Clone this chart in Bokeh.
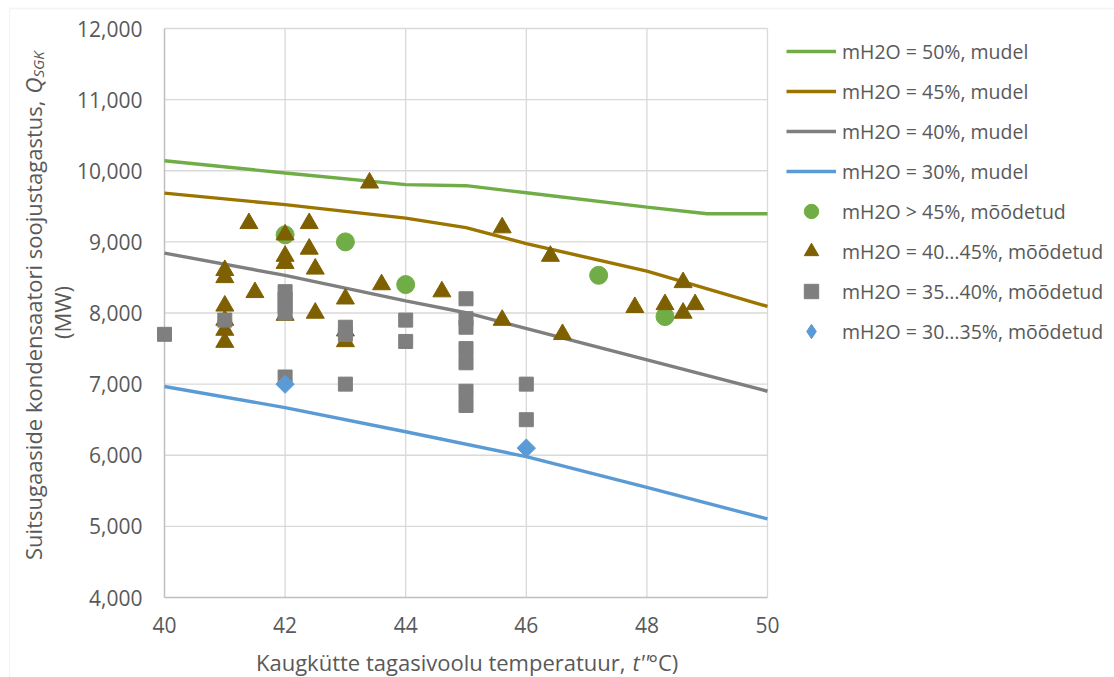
import math
from bokeh.plotting import figure
from bokeh.models import (Range1d, NumeralTickFormatter, Legend, LegendItem, Label, BoxAnnotation,
                          LinearAxis)
from bokeh.embed import file_html
from bokeh.resources import INLINE

# ---------------- data ----------------
# model curves
x_m50 = [40, 42, 44, 45, 46, 48, 49, 50]
y_m50 = [10140, 9968, 9805, 9790, 9690, 9489, 9395, 9395]
x_m45 = [40, 42, 44, 45, 46, 48, 50]
y_m45 = [9686, 9523, 9334, 9200, 8975, 8590, 8092]
x_m40 = [40, 42, 44, 45, 50]
y_m40 = [8842, 8528, 8170, 8004, 6900]
x_m30 = [40, 42, 44, 46, 48, 50]
y_m30 = [6967, 6670, 6330, 5980, 5548, 5104]

# measured points
x_gt45 = [42, 43, 44, 47.2, 48.3]
y_gt45 = [9100, 9000, 8400, 8530, 7950]

x_40_45 = [43.4, 41.4, 42.4, 42, 42.4, 42, 42, 41, 41, 42.5, 41.5, 41, 41, 41, 41,
           42, 42.5, 43, 43, 43, 43.6, 44.6, 45.6, 46.4, 45.6, 46.6, 47.8, 48.3,
           48.6, 48.6, 48.8]
y_40_45 = [9830, 9260, 9260, 9100, 8900, 8800, 8700, 8600, 8500, 8620, 8290, 8100, 7900, 7760, 7590,
           7970, 8000, 8200, 7750, 7600, 8400, 8300, 9200, 8800, 7900, 7700, 8080, 8120,
           8430, 8000, 8120]

x_35_40 = [40, 41, 42, 42, 42, 42, 42, 43, 43, 43, 44, 44, 45, 45, 45, 45, 45, 45, 45, 46, 46]
y_35_40 = [7700, 7900, 8300, 8200, 8100, 8000, 7100, 7800, 7700, 7000, 7900, 7600,
           8200, 7920, 7800, 7500, 7300, 6900, 6700, 7000, 6500]

x_30_35 = [42, 46]
y_30_35 = [7000, 6100]

x_ticks = [40, 42, 44, 46, 48, 50]
y_ticks = [4000, 5000, 6000, 7000, 8000, 9000, 10000, 11000, 12000]

labels = ["mH2O = 50%, mudel", "mH2O = 45%, mudel", "mH2O = 40%, mudel", "mH2O = 30%, mudel",
          "mH2O > 45%, mõõdetud", "mH2O = 40…45%, mõõdetud", "mH2O = 35…40%, mõõdetud",
          "mH2O = 30…35%, mõõdetud"]

# ---------------- style / layout ----------------
FONT = "Open Sans"
TXT = "#595959"
GREEN = "#70ad47"
GOLD = "#7f6000"
GOLD_LINE = "#9c7400"
GRAY = "#7f7f7f"
BLUE = "#5b9bd5"
GRID = "#d9d9d9"

W, H = 1114, 677
# pixel positions of the plot area (x 40..50, y 4000..12000)
FL, FR, FT, FB = 164, 767, 28, 597
X0, X1, Y0, Y1 = 40, 50, 4000, 12000


def px2x(px):
    return X0 + (px - FL) * (X1 - X0) / (FR - FL)


def py2y(py):
    return Y1 - (py - FT) * (Y1 - Y0) / (FB - FT)


# the frame covers the whole canvas so nothing is clipped; the data area is
# placed by the ranges
p = figure(width=W, height=H, output_backend="svg", toolbar_location=None,
           x_range=Range1d(px2x(0), px2x(W)), y_range=Range1d(py2y(H), py2y(0)),
           min_border=0, x_axis_location=None, y_axis_location=None)
p.outline_line_color = None
p.background_fill_color = "white"
p.border_fill_color = "white"
p.grid.visible = False

xax = LinearAxis(fixed_location=Y0, bounds=(X0, X1), ticker=x_ticks)
yax = LinearAxis(fixed_location=X0, bounds=(Y0, Y1), ticker=y_ticks,
                 formatter=NumeralTickFormatter(format="0,0"))
for ax in (xax, yax):
    ax.axis_line_color = "#bfbfbf"
    ax.axis_line_width = 1.5
    ax.major_tick_line_color = None
    ax.minor_tick_line_color = None
    ax.major_tick_out = 0
    ax.major_tick_in = 0
    ax.minor_tick_out = 0
    ax.major_label_text_font = FONT
    ax.major_label_text_font_size = "21px"
    ax.major_label_text_color = TXT
    ax.level = "underlay"
yax.major_label_standoff = 22
xax.major_label_standoff = 19
p.add_layout(xax, "below")
p.add_layout(yax, "left")

# gridlines from the tick lists
gx = x_ticks[1:]
gy = y_ticks[1:]
p.segment(x0=gx, y0=[Y0] * len(gx), x1=gx, y1=[Y1] * len(gx), line_color=GRID, line_width=1.3,
          level="underlay")
p.segment(x0=[X0] * len(gy), y0=gy, x1=[X1] * len(gy), y1=gy, line_color=GRID, line_width=1.3,
          level="underlay")

# outer chart border
p.add_layout(BoxAnnotation(left=px2x(9), right=px2x(W + 50), top=py2y(8), bottom=py2y(H + 50),
                           fill_alpha=0, line_color=GRID, line_width=1.3, level="underlay"))

LW = 3.4
r50 = p.line(x_m50, y_m50, line_color=GREEN, line_width=LW)
r45 = p.line(x_m45, y_m45, line_color=GOLD_LINE, line_width=LW)
r40 = p.line(x_m40, y_m40, line_color=GRAY, line_width=LW)
r30 = p.line(x_m30, y_m30, line_color=BLUE, line_width=LW)

s1 = p.scatter(x_gt45, y_gt45, marker="circle", size=18, fill_color=GREEN, line_color=GREEN)
s2 = p.scatter(x_40_45, y_40_45, marker="triangle", size=18, fill_color=GOLD, line_color=GOLD)
s3 = p.scatter(x_35_40, y_35_40, marker="square", size=14, fill_color=GRAY, line_color=GRAY)
# diamond-shaped key for the legend (drawn under the rotated squares below)
s4_key = p.scatter(x_30_35, y_30_35, marker="diamond", size=12, fill_color=BLUE, line_color=BLUE)
s4 = p.scatter(x_30_35, y_30_35, marker="square", angle=math.pi / 4, size=13,
               fill_color=BLUE, line_color=BLUE)

legend = Legend(items=[LegendItem(label=l, renderers=[r]) for l, r in
                       zip(labels, [r50, r45, r40, r30, s1, s2, s3, s4_key])],
                location=(786, H - 349), glyph_width=50, glyph_height=36,
                label_height=36, spacing=4, padding=0, margin=0, label_standoff=6,
                border_line_color=None, background_fill_alpha=0,
                label_text_font=FONT, label_text_font_size="19.5px", label_text_color=TXT)
p.add_layout(legend)


def lab(px, py, text, size="22px", style="normal", align="left", angle=0.0):
    p.add_layout(Label(x=px2x(px), y=py2y(py), text=text, text_font=FONT, text_font_size=size,
                       text_font_style=style, text_color=TXT, text_align=align,
                       text_baseline="middle", angle=angle))


# y axis title (rotated)
A = math.pi / 2
lab(32, 100, "Suitsugaaside kondensaatori soojustagastus,", align="right", angle=A)
lab(32, 93, "Q", style="italic", angle=A)
lab(37, 77, "SGK", size="15px", style="italic", angle=A)
lab(61, 312, "(MW)", align="center", angle=A)

# x axis title
lab(625, 661, "Kaugkütte tagasivoolu temperatuur,", align="right")
lab(632, 661, "t''", style="italic")
lab(648, 661, "°C)")

open("out.html", "w").write(file_html(p, INLINE))
